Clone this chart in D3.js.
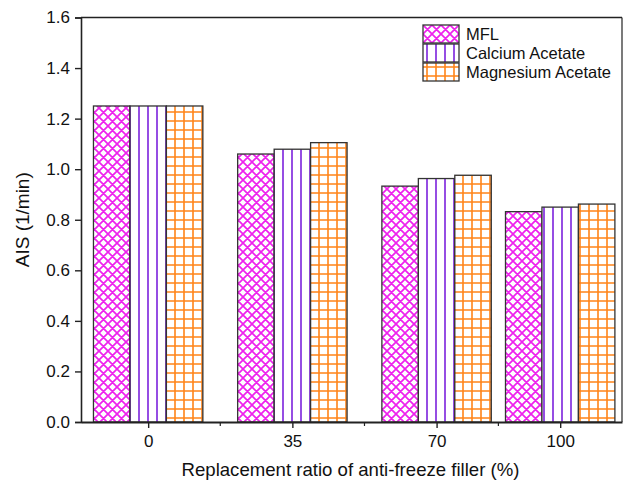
<!DOCTYPE html>
<html>
<head>
<meta charset="utf-8">
<script src="https://cdn.jsdelivr.net/npm/d3@7"></script>
<style>
  html, body { margin: 0; padding: 0; background: #fff; }
  svg { display: block; font-family: "Liberation Sans", Arial, sans-serif; }
</style>
</head>
<body>
<svg id="chart" width="625" height="489"></svg>
<script>
// Replacement ratio categories (%) and AIS values (1/min) per filler type
const ratios = [0, 35, 70, 100];
const seriesNames = ["MFL", "Calcium Acetate", "Magnesium Acetate"];
const mflValues = [1.25, 1.06, 0.933, 0.832];
const calciumValues = [1.25, 1.079, 0.963, 0.850];
const magnesiumValues = [1.25, 1.105, 0.976, 0.862];
const yTicks = [0.0, 0.2, 0.4, 0.6, 0.8, 1.0, 1.2, 1.4, 1.6];
const xMinorTicks = [17.5, 52.5, 85];

const series = [
  { name: seriesNames[0], values: mflValues, pattern: "pat-mfl" },
  { name: seriesNames[1], values: calciumValues, pattern: "pat-ca" },
  { name: seriesNames[2], values: magnesiumValues, pattern: "pat-mg" }
];

const svg = d3.select("#chart");
const margin = { left: 81, top: 17.5, right: 622, bottom: 422 };

const x = d3.scaleLinear().domain([-16.3, 115]).range([margin.left, margin.right]);
const y = d3.scaleLinear().domain([0, 1.6]).range([margin.bottom, margin.top]);

// Hatch patterns
const defs = svg.append("defs");
const mfl = defs.append("pattern").attr("id", "pat-mfl")
  .attr("patternUnits", "userSpaceOnUse").attr("width", 9).attr("height", 9);
mfl.append("rect").attr("width", 9).attr("height", 9).attr("fill", "#fff");
mfl.append("path").attr("d", "M0,0 L9,9 M9,0 L0,9 M-1,8 L1,10 M8,-1 L10,1 M-1,1 L1,-1 M8,10 L10,8")
  .attr("stroke", "#ee22ee").attr("stroke-width", 1.7);

const ca = defs.append("pattern").attr("id", "pat-ca")
  .attr("patternUnits", "userSpaceOnUse").attr("width", 9).attr("height", 9);
ca.append("rect").attr("width", 9).attr("height", 9).attr("fill", "#fff");
ca.append("line").attr("x1", 4).attr("x2", 4).attr("y1", 0).attr("y2", 9)
  .attr("stroke", "#8a3ae0").attr("stroke-width", 1.8);

const mg = defs.append("pattern").attr("id", "pat-mg")
  .attr("patternUnits", "userSpaceOnUse").attr("width", 9).attr("height", 9);
mg.append("rect").attr("width", 9).attr("height", 9).attr("fill", "#fff");
mg.append("path").attr("d", "M4,0 L4,9 M0,4 L9,4")
  .attr("stroke", "#ff8418").attr("stroke-width", 1.6);

// Bars
const barW = x(8.85) - x(0);
series.forEach((s, si) => {
  svg.append("g").selectAll("rect")
    .data(ratios.map((r, i) => ({ r, v: s.values[i] })))
    .join("rect")
    .attr("x", d => x(d.r) + (si - 1.5) * barW)
    .attr("y", d => y(d.v))
    .attr("width", barW)
    .attr("height", d => y(0) - y(d.v))
    .attr("fill", `url(#${s.pattern})`)
    .attr("stroke", "#333")
    .attr("stroke-width", 1.3);
});

// Frame (top and right)
svg.append("line").attr("x1", margin.left).attr("x2", margin.right)
  .attr("y1", margin.top).attr("y2", margin.top)
  .attr("stroke", "#222").attr("stroke-width", 1.6);
svg.append("line").attr("x1", margin.right).attr("x2", margin.right)
  .attr("y1", margin.top).attr("y2", margin.bottom)
  .attr("stroke", "#222").attr("stroke-width", 1.2);

// Y axis
const yAxis = svg.append("g").attr("transform", `translate(${margin.left},0)`)
  .call(d3.axisLeft(y).tickValues(yTicks).tickFormat(d3.format(".1f")).tickSize(6).tickPadding(5));
yAxis.select(".domain").attr("stroke", "#222").attr("stroke-width", 1.6);
yAxis.selectAll(".tick line").attr("stroke", "#222").attr("stroke-width", 1.4);
yAxis.selectAll("text").attr("font-size", 17).attr("fill", "#111");

// X axis
const xAxis = svg.append("g").attr("transform", `translate(0,${margin.bottom})`)
  .call(d3.axisBottom(x).tickValues(ratios).tickFormat(d3.format("d")).tickSize(6).tickSizeOuter(0).tickPadding(7));
xAxis.select(".domain").attr("stroke", "#222").attr("stroke-width", 1.8);
xAxis.selectAll(".tick line").attr("stroke", "#222").attr("stroke-width", 1.4);
xAxis.selectAll("text").attr("font-size", 17).attr("fill", "#111");
xAxis.append("g").selectAll("line").data(xMinorTicks).join("line")
  .attr("x1", d => x(d)).attr("x2", d => x(d)).attr("y1", 0).attr("y2", 4)
  .attr("stroke", "#222").attr("stroke-width", 1.2);

// Axis titles
svg.append("text").attr("x", (margin.left + margin.right) / 2 - 1).attr("y", 476)
  .attr("text-anchor", "middle").attr("font-size", 18.6).attr("fill", "#111")
  .text("Replacement ratio of anti-freeze filler (%)");
svg.append("text").attr("transform", `translate(29,${(margin.top + margin.bottom) / 2}) rotate(-90)`)
  .attr("text-anchor", "middle").attr("font-size", 19).attr("fill", "#111")
  .text("AIS (1/min)");

// Legend
const legend = svg.append("g").attr("transform", "translate(423,25)");
series.forEach((s, i) => {
  const g = legend.append("g").attr("transform", `translate(0,${i * 19})`);
  g.append("rect").attr("width", 36).attr("height", 18)
    .attr("fill", `url(#${s.pattern})`).attr("stroke", "#333").attr("stroke-width", 1.3);
  g.append("text").attr("x", 43).attr("y", 15).attr("font-size", 16.5).attr("fill", "#111").text(s.name);
});
</script>
</body>
</html>
